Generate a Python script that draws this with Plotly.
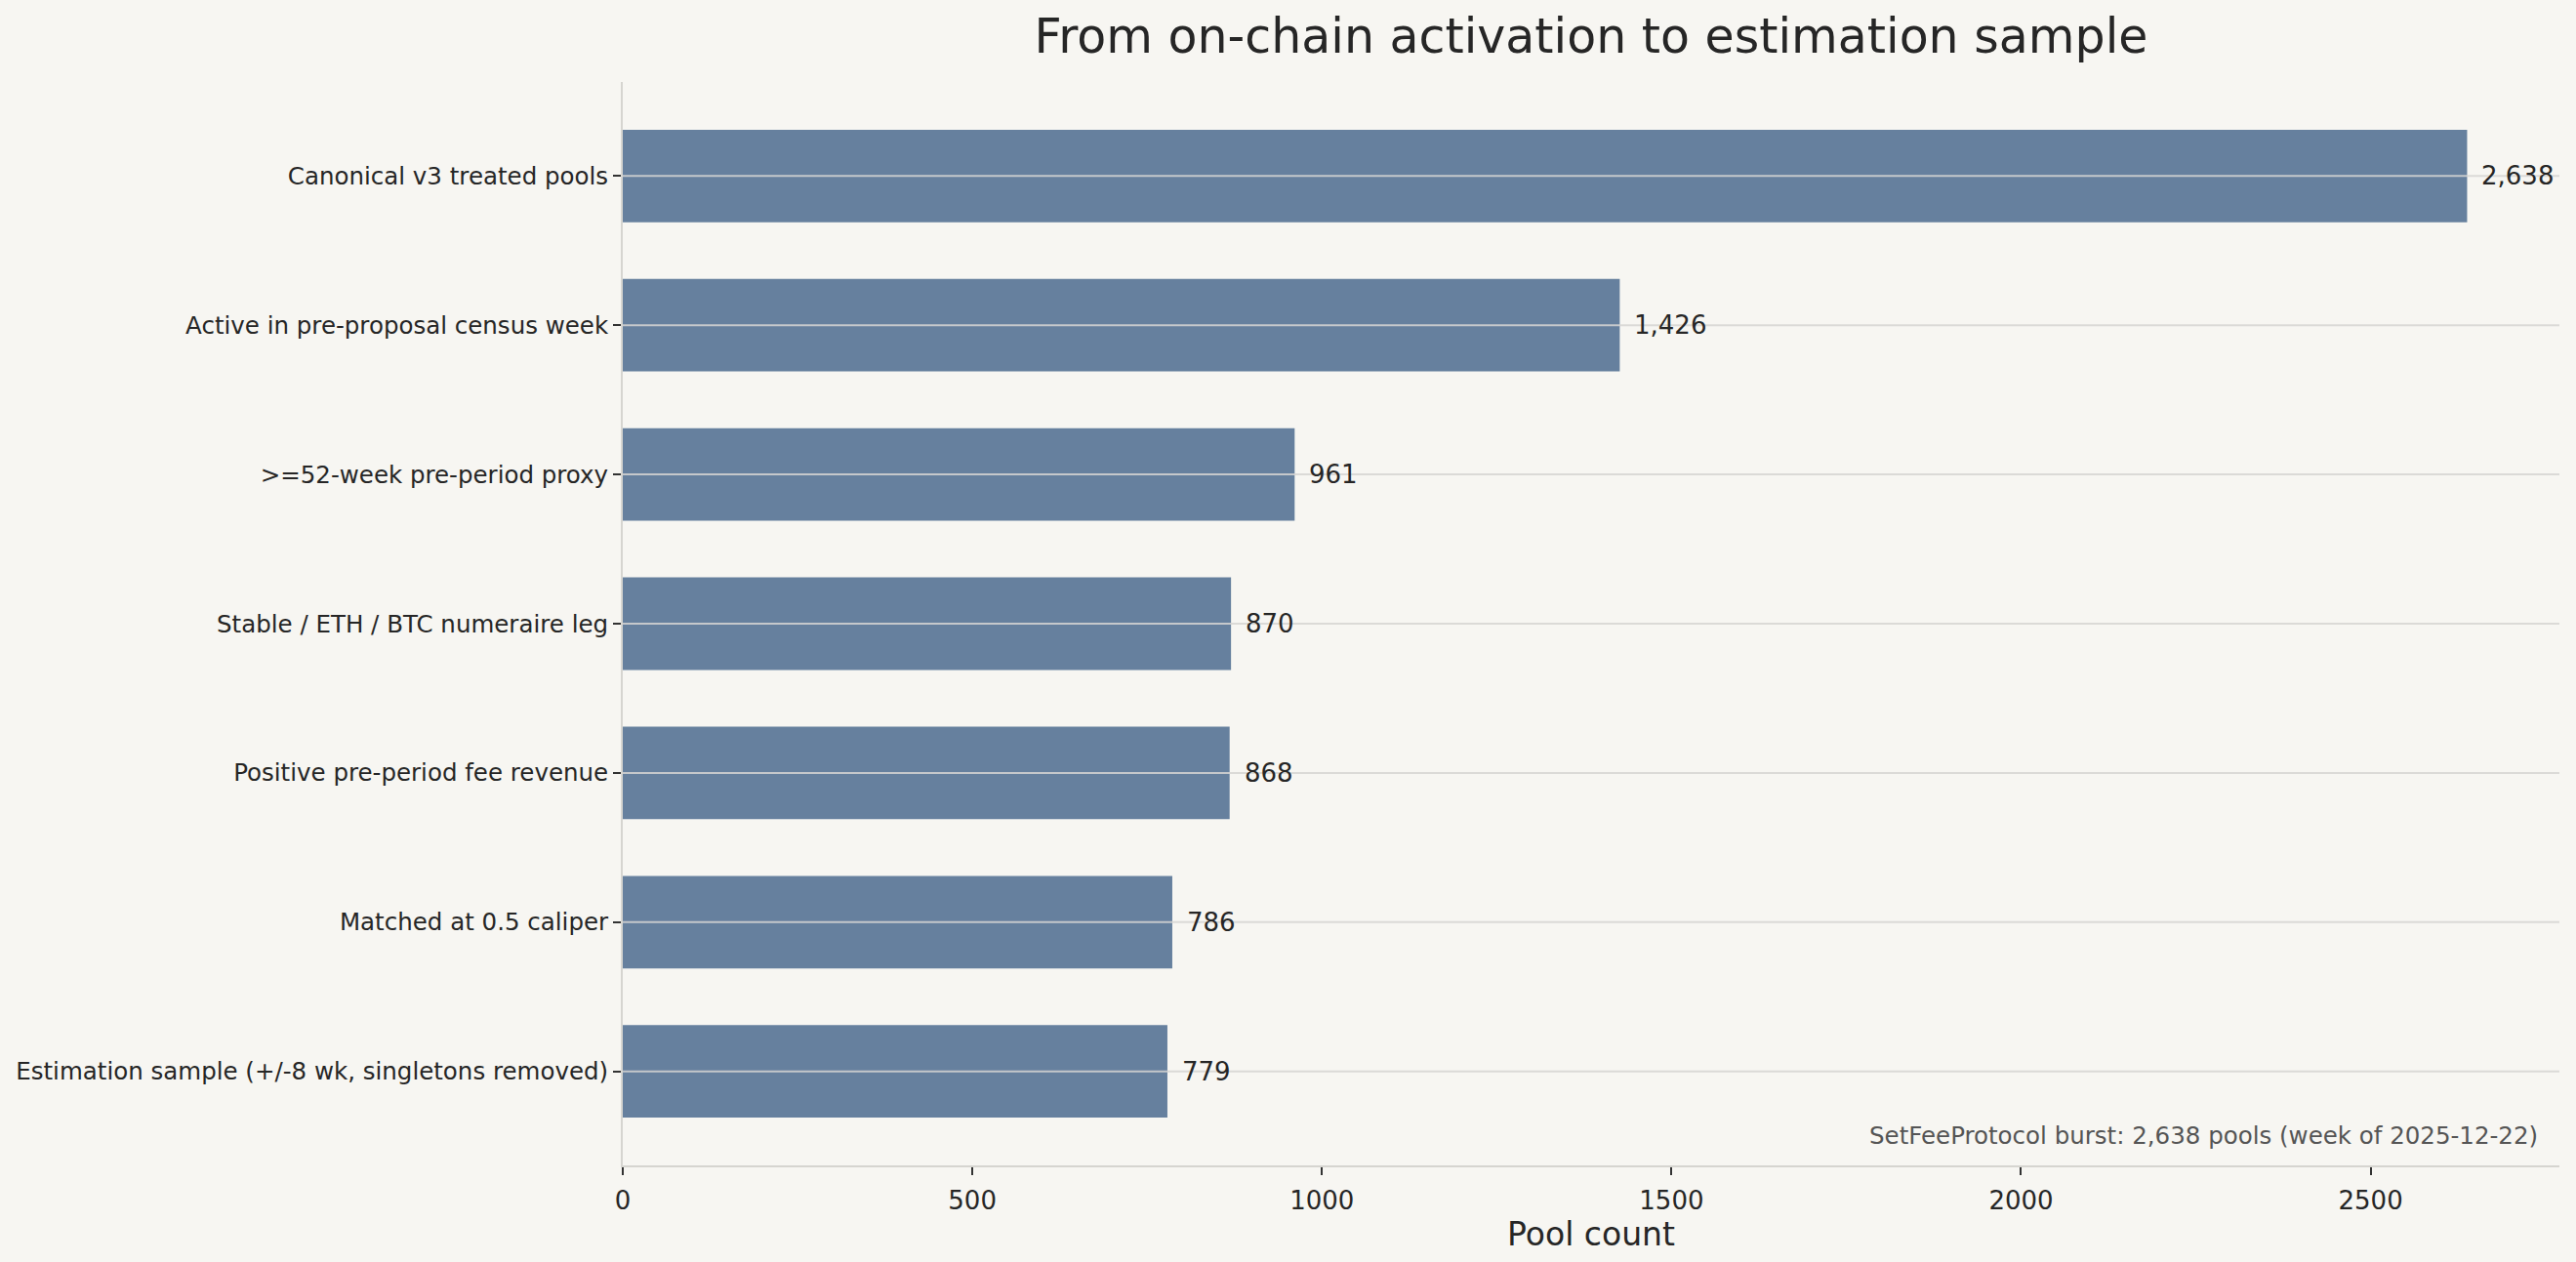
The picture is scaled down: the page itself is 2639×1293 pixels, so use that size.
import plotly.graph_objects as go

# Sample attrition steps (top to bottom)
steps = [
    "Canonical v3 treated pools",
    "Active in pre-proposal census week",
    ">=52-week pre-period proxy",
    "Stable / ETH / BTC numeraire leg",
    "Positive pre-period fee revenue",
    "Matched at 0.5 caliper",
    "Estimation sample (+/-8 wk, singletons removed)",
]
pool_counts = [2638, 1426, 961, 870, 868, 786, 779]
x_ticks = [0, 500, 1000, 1500, 2000, 2500]
note = "SetFeeProtocol burst: 2,638 pools (week of 2025-12-22)"

bg = "#F7F6F2"
bar_color = "#66809E"
text_color = "#262626"
grid_color = "rgba(214,213,210,0.85)"
font = "DejaVu Sans"

fig = go.Figure()

fig.add_trace(go.Bar(
    x=pool_counts,
    y=steps,
    orientation="h",
    width=0.62,
    marker=dict(color=bar_color, line=dict(width=0)),
    hoverinfo="x+y",
    showlegend=False,
))

# horizontal grid drawn on top of the bars, like the original
for label in steps:
    fig.add_shape(
        type="line", xref="paper", x0=0, x1=1, y0=label, y1=label,
        line=dict(color=grid_color, width=2), layer="above",
    )

# value labels just past bar ends
for label, n in zip(steps, pool_counts):
    fig.add_annotation(
        x=n, y=label, text=f"{n:,}",
        xanchor="left", yanchor="middle", xshift=13,
        showarrow=False,
        font=dict(size=26, color=text_color, family=font),
    )

fig.add_annotation(
    x=1, y=0, xref="paper", yref="paper",
    xanchor="right", yanchor="bottom", xshift=-20, yshift=14,
    text=note, showarrow=False,
    font=dict(size=24.5, color="#555555", family=font),
)

fig.update_layout(
    width=2639,
    height=1293,
    paper_bgcolor=bg,
    plot_bgcolor=bg,
    margin=dict(l=638, r=17, t=84, b=99),
    font=dict(family=font, color=text_color),
    title=dict(
        text="From on-chain activation to estimation sample",
        x=0.5, xref="paper", xanchor="center",
        y=1 - 37 / 1293, yref="container", yanchor="middle",
        font=dict(size=49, color=text_color, family=font),
    ),
    bargap=0.4,
)

fig.update_xaxes(
    range=[0, 2770],
    tickvals=x_ticks,
    ticks="outside", ticklen=8, tickwidth=1.5, tickcolor="#333333",
    ticklabelstandoff=4,
    tickfont=dict(size=26, color=text_color),
    showgrid=False, zeroline=False,
    showline=True, linecolor="#D6D5D0", linewidth=2,
    title=dict(text="Pool count", font=dict(size=33, color=text_color), standoff=3),
)

fig.update_yaxes(
    categoryorder="array", categoryarray=steps,
    range=[6.63, -0.63],
    ticks="outside", ticklen=8, tickwidth=1.5, tickcolor="#333333",
    tickfont=dict(size=24.5, color=text_color),
    showgrid=False,
    zeroline=False,
    showline=True, linecolor="#D6D5D0", linewidth=2,
)

fig.write_html(
    "out.html",
    config={"displayModeBar": False},
    post_script="document.body.style.margin='0';document.body.style.background='#F7F6F2';",
)
